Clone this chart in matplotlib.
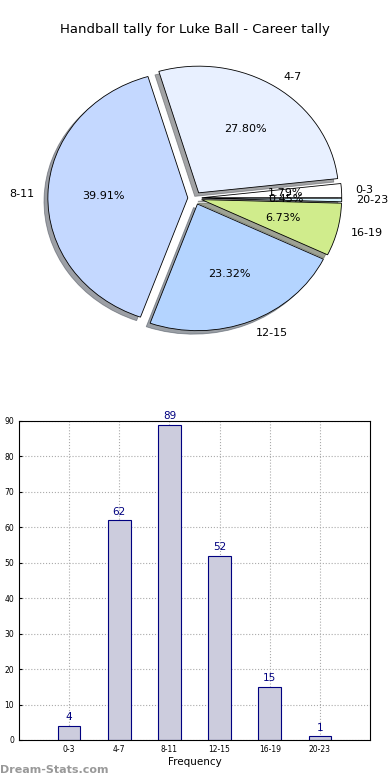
import matplotlib
matplotlib.use('Agg')
import matplotlib.pyplot as plt
import numpy as np

# Tally per range
categories = ['0-3', '4-7', '8-11', '12-15', '16-19', '20-23']
counts = [4, 62, 89, 52, 15, 1]
pie_colors = ['#ffffff', '#e8f0ff', '#c4d8ff', '#b4d4ff', '#d0ec8c', '#d8f4ff']
yticks = [0, 10, 20, 30, 40, 50, 60, 70, 80, 90]

fig = plt.figure(figsize=(3.9, 7.8), dpi=100)
fig.text(0.5, 0.962, 'Handball tally for Luke Ball - Career tally',
         ha='center', va='center', fontsize=9.5)

# Pie chart (slightly squashed, like the original)
ax1 = fig.add_axes([0.051, 0.543, 0.897, 0.406])
wedges, texts, autotexts = ax1.pie(
    counts, labels=categories, colors=pie_colors, explode=[0.05] * len(counts),
    startangle=0, autopct='%1.2f%%', pctdistance=0.6, labeldistance=1.1,
    shadow=True, wedgeprops={'edgecolor': 'black', 'linewidth': 0.6},
    textprops={'fontsize': 8})
ax1.set_aspect('auto')

# Bar chart
ax2 = fig.add_axes([0.0487, 0.0513, 0.9, 0.409])
x = np.arange(1, len(categories) + 1)
bars = ax2.bar(x, counts, width=0.45, color='#ccccdd', edgecolor='navy',
               linewidth=0.8, zorder=2)
for xi, c in zip(x, counts):
    ax2.text(xi, c + 1, str(c), ha='center', va='bottom', color='navy', fontsize=7.5)
ax2.set_xlim(0, 7)
ax2.set_ylim(0, 90)
ax2.set_xticks(x)
ax2.set_xticklabels(categories)
ax2.set_yticks(yticks)
ax2.tick_params(labelsize=5.5, length=2, direction='in')
ax2.grid(True, linestyle=':', color='#aaaaaa', linewidth=0.8, zorder=0)
ax2.set_axisbelow(True)
ax2.set_xlabel('Frequency', fontsize=7.5, labelpad=2)

fig.text(0.0, 0.006, 'Dream-Stats.com', fontsize=8, color='#999999',
         ha='left', va='bottom', fontweight='bold')

fig.savefig('out.png', dpi=100)
